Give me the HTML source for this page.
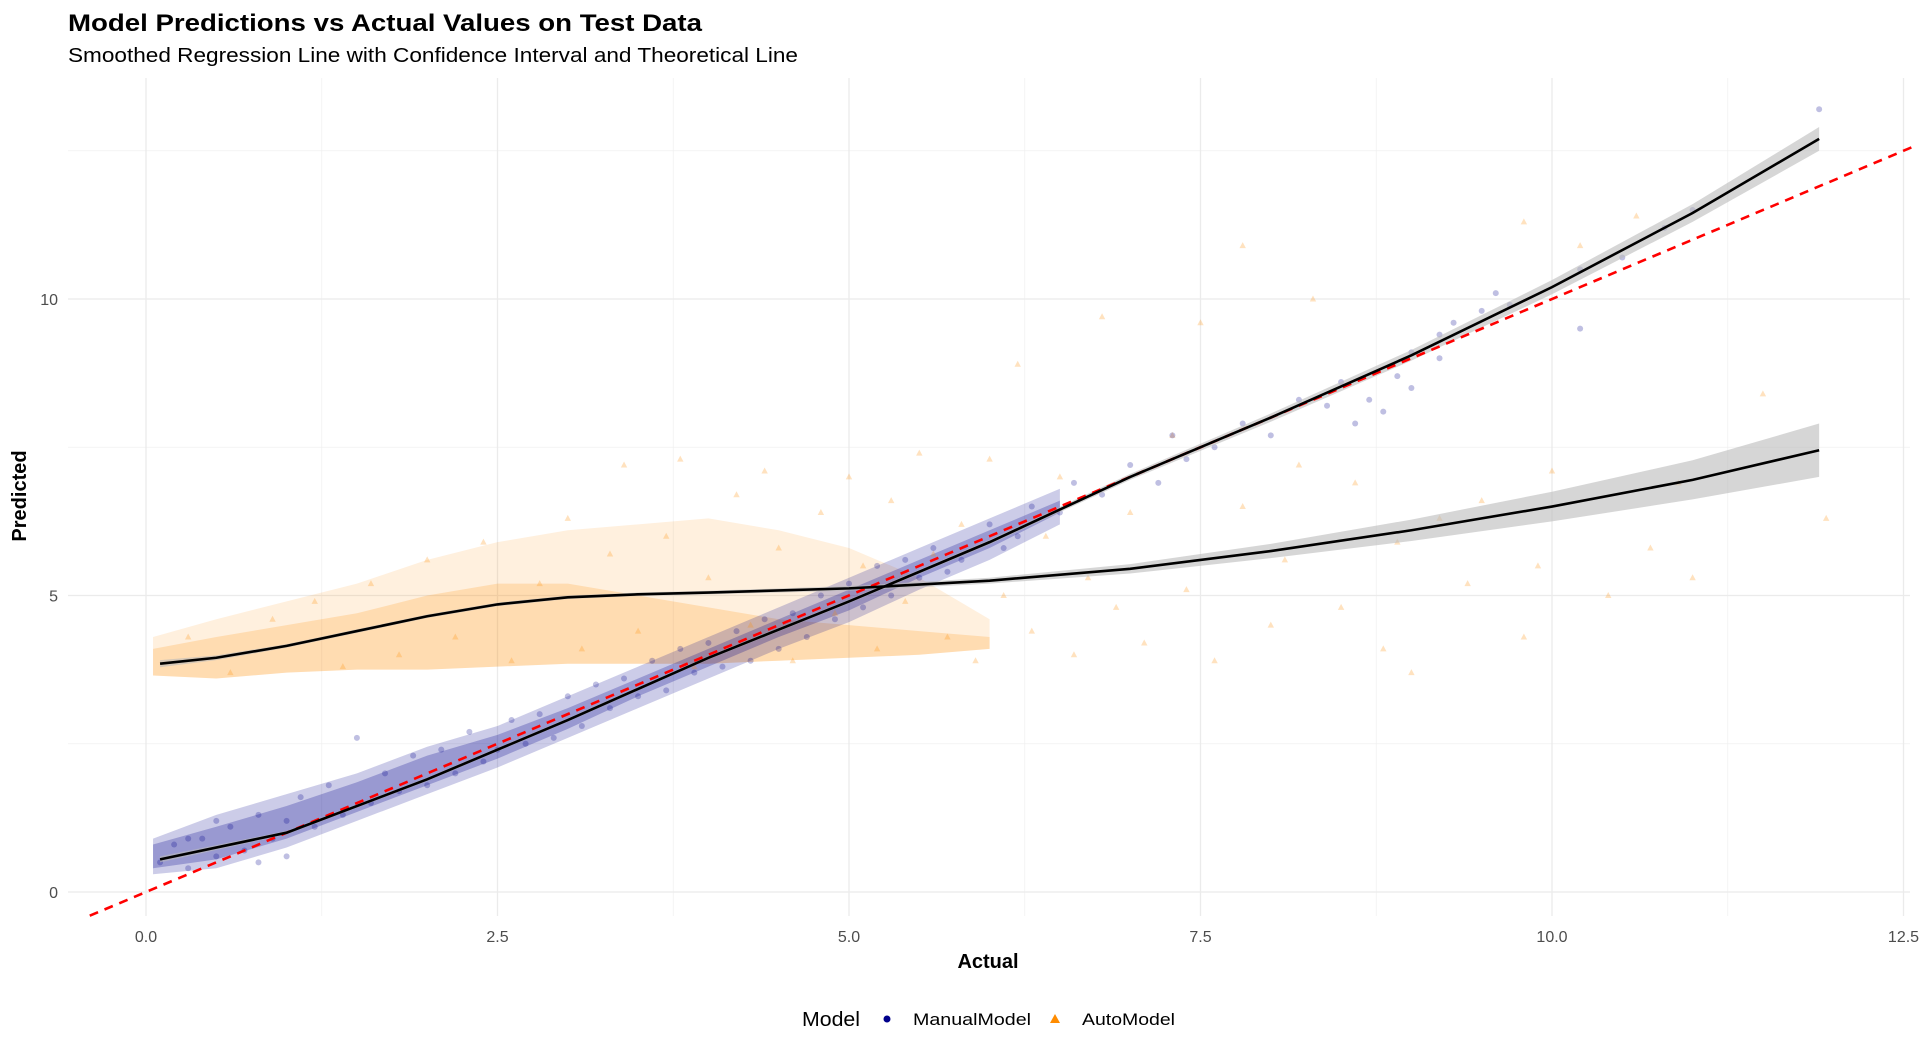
<!DOCTYPE html>
<html><head><meta charset="utf-8"><style>
html,body{margin:0;padding:0;background:#fff;}
svg{display:block;font-family:"Liberation Sans",sans-serif;}
</style></head><body>
<svg id="chart" width="1920" height="1052" viewBox="0 0 1920 1052">
<text x="68" y="31" font-size="24" font-weight="bold" fill="#000" textLength="634" lengthAdjust="spacingAndGlyphs">Model Predictions vs Actual Values on Test Data</text>
<text x="68" y="62" font-size="20" fill="#000" textLength="730" lengthAdjust="spacingAndGlyphs">Smoothed Regression Line with Confidence Interval and Theoretical Line</text>
<g id="grid"></g>
<g id="bands"></g>
<g id="points"></g>
<g id="lines"></g>
<g id="axes"></g>
<text x="988" y="968" font-size="20" font-weight="bold" text-anchor="middle">Actual</text>
<text transform="translate(26,496) rotate(-90)" font-size="20" font-weight="bold" text-anchor="middle">Predicted</text>
<g>
<text x="802" y="1026" font-size="20" textLength="58" lengthAdjust="spacingAndGlyphs">Model</text>
<g>
<circle cx="887" cy="1019" r="3.5" fill="#00008B"/>
<text x="913" y="1025" font-size="17" textLength="118" lengthAdjust="spacingAndGlyphs">ManualModel</text></g>
<g>
<polygon points="1055,1014 1060,1023 1050,1023" fill="#FF8C00"/>
<text x="1082" y="1025" font-size="17" textLength="93" lengthAdjust="spacingAndGlyphs">AutoModel</text></g>
</g>
</svg>
<script>
const xTicks=[0,2.5,5,7.5,10,12.5];
const xTickLabels=["0.0","2.5","5.0","7.5","10.0","12.5"];
const xMinor=[1.25,3.75,6.25,8.75,11.25];
const yTicks=[0,5,10];
const yTickLabels=["0","5","10"];
const yMinor=[2.5,7.5,12.5];
const manualSmoothX=[0.1,1,2,3,4,5,6,7,8,9,10,11,11.9];
const manualSmoothY=[0.55,1.0,1.9,2.9,3.95,4.9,5.9,7.0,8.0,9.05,10.2,11.45,12.7];
const manualCI=[0.05,0.03,0.03,0.03,0.03,0.03,0.04,0.05,0.07,0.09,0.12,0.15,0.2];
const autoSmoothX=[0.1,0.5,1,1.5,2,2.5,3,3.5,4,5,6,7,8,9,10,11,11.9];
const autoSmoothY=[3.85,3.95,4.15,4.4,4.65,4.85,4.97,5.02,5.05,5.12,5.25,5.45,5.75,6.1,6.5,6.95,7.45];
const autoCI=[0.06,0.04,0.03,0.03,0.03,0.03,0.03,0.03,0.03,0.04,0.05,0.08,0.12,0.18,0.25,0.33,0.45];
const manualBandX=[0.05,0.5,1,1.5,2,2.5,3,3.5,4,4.5,5,5.5,6,6.5];
const manualBandLo=[0.3,0.4,0.75,1.2,1.65,2.1,2.6,3.1,3.6,4.1,4.55,5.1,5.6,6.2];
const manualBandHi=[0.9,1.3,1.65,2.0,2.45,2.8,3.3,3.8,4.3,4.8,5.3,5.8,6.3,6.8];
const manualCoreLo=[0.4,0.55,0.9,1.35,1.8,2.25,2.75,3.3,3.8,4.3,4.75,5.3,5.8,6.4];
const manualCoreHi=[0.8,1.1,1.45,1.85,2.3,2.65,3.1,3.6,4.1,4.6,5.1,5.6,6.1,6.6];
const autoBandX=[0.05,0.5,1,1.5,2,2.5,3,3.5,4,4.5,5,5.5,6];
const autoBandLo=[3.65,3.6,3.7,3.75,3.75,3.8,3.85,3.85,3.85,3.9,3.95,4.0,4.1];
const autoBandHi=[4.3,4.6,4.9,5.2,5.6,5.9,6.1,6.2,6.3,6.1,5.8,5.3,4.6];
const autoCoreHi=[4.1,4.3,4.5,4.7,5.0,5.2,5.2,5.0,4.8,4.6,4.5,4.4,4.3];
const manualX=[0.1,0.2,0.3,0.4,0.5,0.6,0.7,0.8,0.9,1.0,1.1,1.2,1.3,1.4,1.5,1.6,1.7,1.8,1.9,2.0,2.1,2.2,2.3,2.4,2.5,2.6,2.7,2.8,2.9,3.0,3.1,3.2,3.3,3.4,3.5,3.6,3.7,3.8,3.9,4.0,4.1,4.2,4.3,4.4,4.5,4.6,4.7,4.8,4.9,5.0,5.1,5.2,5.3,5.4,5.5,5.6,5.8,6.0,6.1,6.3,6.5,6.6,6.8,7.0,7.2,7.3,7.4,7.6,7.8,8.0,8.2,8.4,8.5,8.6,8.8,8.9,9.0,9.0,9.2,9.3,9.5,9.6,9.7,10.2,10.2,10.5,10.8,11.0,11.9,9.2,8.7,6.2,5.7,1.0,0.5,0.3,0.8];
const manualY=[0.5,0.8,0.4,0.9,0.6,1.1,0.7,1.3,0.9,1.2,1.6,1.1,1.8,1.3,2.6,1.5,2.0,1.7,2.3,1.8,2.4,2.0,2.7,2.2,2.4,2.9,2.5,3.0,2.6,3.3,2.8,3.5,3.1,3.6,3.3,3.9,3.4,4.1,3.7,4.2,3.8,4.4,3.9,4.6,4.1,4.7,4.3,5.0,4.6,5.2,4.8,5.5,5.0,5.6,5.3,5.8,5.6,6.2,5.8,6.5,6.4,6.9,6.7,7.2,6.9,7.7,7.3,7.5,7.9,7.7,8.3,8.2,8.6,7.9,8.1,8.7,9.1,8.5,9.4,9.6,9.8,10.1,9.9,9.5,10.5,10.7,11.2,11.5,13.2,9.0,8.3,6.0,5.4,0.6,1.2,0.9,0.5];
const autoX=[0.3,0.6,0.9,1.2,1.4,1.6,1.8,2.0,2.2,2.4,2.6,2.8,3.0,3.1,3.3,3.4,3.5,3.7,3.8,3.9,4.0,4.2,4.3,4.4,4.5,4.6,4.8,4.9,5.0,5.1,5.2,5.3,5.4,5.5,5.6,5.7,5.8,5.9,6.0,6.1,6.2,6.3,6.4,6.5,6.6,6.7,6.8,6.9,7.0,7.1,7.3,7.4,7.5,7.6,7.8,8.0,8.1,8.2,8.3,8.5,8.6,8.8,8.9,9.0,9.2,9.4,9.5,9.8,9.9,10.0,10.2,10.4,10.7,10.9,11.0,11.5,11.95,10.6,7.8,9.8];
const autoY=[4.3,3.7,4.6,4.9,3.8,5.2,4.0,5.6,4.3,5.9,3.9,5.2,6.3,4.1,5.7,7.2,4.4,6.0,7.3,3.8,5.3,6.7,4.5,7.1,5.8,3.9,6.4,4.7,7.0,5.5,4.1,6.6,4.9,7.4,5.7,4.3,6.2,3.9,7.3,5.0,8.9,4.4,6.0,7.0,4.0,5.3,9.7,4.8,6.4,4.2,7.7,5.1,9.6,3.9,6.5,4.5,5.6,7.2,10.0,4.8,6.9,4.1,5.9,3.7,6.3,5.2,6.6,4.3,5.5,7.1,10.9,5.0,5.8,6.9,5.3,8.4,6.3,11.4,10.9,11.3];

const NS="http://www.w3.org/2000/svg";
const L=68,R=1910,T=78,B=916;
const xs=v=>146+v*140.6;
const ys=v=>892-v*59.3;
function mk(tag,attrs,parent){const e=document.createElementNS(NS,tag);for(const k in attrs)e.setAttribute(k,attrs[k]);parent.appendChild(e);return e;}
const grid=document.getElementById('grid'),bands=document.getElementById('bands'),pts=document.getElementById('points'),lines=document.getElementById('lines'),axes=document.getElementById('axes');
xMinor.forEach(v=>{const e=mk('line',{x1:xs(v),x2:xs(v),y1:T,y2:B,stroke:'#f0f0f0','stroke-width':0.8},grid);

});
yMinor.forEach(v=>{const e=mk('line',{x1:L,x2:R,y1:ys(v),y2:ys(v),stroke:'#f0f0f0','stroke-width':0.8},grid);

});
xTicks.forEach((v,i)=>{const e=mk('line',{x1:xs(v),x2:xs(v),y1:T,y2:B,stroke:'#ebebeb','stroke-width':1.3},grid);


const t=mk('text',{x:xs(v),y:942,'font-size':16,fill:'#4d4d4d','text-anchor':'middle'},axes);t.textContent=xTickLabels[i];

});
yTicks.forEach((v,i)=>{const e=mk('line',{x1:L,x2:R,y1:ys(v),y2:ys(v),stroke:'#ebebeb','stroke-width':1.3},grid);


const t=mk('text',{x:58,y:ys(v)+6,'font-size':16,fill:'#4d4d4d','text-anchor':'end'},axes);t.textContent=yTickLabels[i];

});
function bandPath(X,lo,hi){let d='';X.forEach((x,i)=>{d+=(i?'L':'M')+xs(x)+','+ys(hi[i]);});for(let i=X.length-1;i>=0;i--)d+='L'+xs(X[i])+','+ys(lo[i]);return d+'Z';}
let b=mk('path',{d:bandPath(autoBandX,autoBandLo,autoBandHi),fill:'#FF8C00','fill-opacity':0.13},bands);


b=mk('path',{d:bandPath(autoBandX,autoBandLo,autoCoreHi),fill:'#FF8C00','fill-opacity':0.2},bands);


b=mk('path',{d:bandPath(manualBandX,manualBandLo,manualBandHi),fill:'#00008B','fill-opacity':0.2},bands);


b=mk('path',{d:bandPath(manualBandX,manualCoreLo,manualCoreHi),fill:'#00008B','fill-opacity':0.25},bands);


autoX.forEach((x,i)=>{const cx=xs(x),cy=ys(autoY[i]);const p=mk('polygon',{points:`${cx},${cy-3.5} ${cx+3.2},${cy+2.5} ${cx-3.2},${cy+2.5}`,fill:'#FF8C00','fill-opacity':0.25},pts);

});
manualX.forEach((x,i)=>{const p=mk('circle',{cx:xs(x),cy:ys(manualY[i]),r:3,fill:'#00008B','fill-opacity':0.25},pts);

});
function ciPath(X,Y,C){let d='';X.forEach((x,i)=>{d+=(i?'L':'M')+xs(x)+','+ys(Y[i]+C[i]);});for(let i=X.length-1;i>=0;i--)d+='L'+xs(X[i])+','+ys(Y[i]-C[i]);return d+'Z';}
function linePath(X,Y){return X.map((x,i)=>(i?'L':'M')+xs(x)+','+ys(Y[i])).join('');}
let c=mk('path',{d:ciPath(manualSmoothX,manualSmoothY,manualCI),fill:'#bbb','fill-opacity':0.6},lines);


c=mk('path',{d:ciPath(autoSmoothX,autoSmoothY,autoCI),fill:'#bbb','fill-opacity':0.6},lines);


let dl=mk('line',{x1:xs(-0.4),y1:ys(-0.4),x2:xs(12.6),y2:ys(12.6),stroke:'#FF0000','stroke-width':2.6,'stroke-dasharray':'9,7'},lines);


let l=mk('path',{d:linePath(manualSmoothX,manualSmoothY),fill:'none',stroke:'#000','stroke-width':2.6},lines);


l=mk('path',{d:linePath(autoSmoothX,autoSmoothY),fill:'none',stroke:'#000','stroke-width':2.6},lines);


</script>
</body></html>
